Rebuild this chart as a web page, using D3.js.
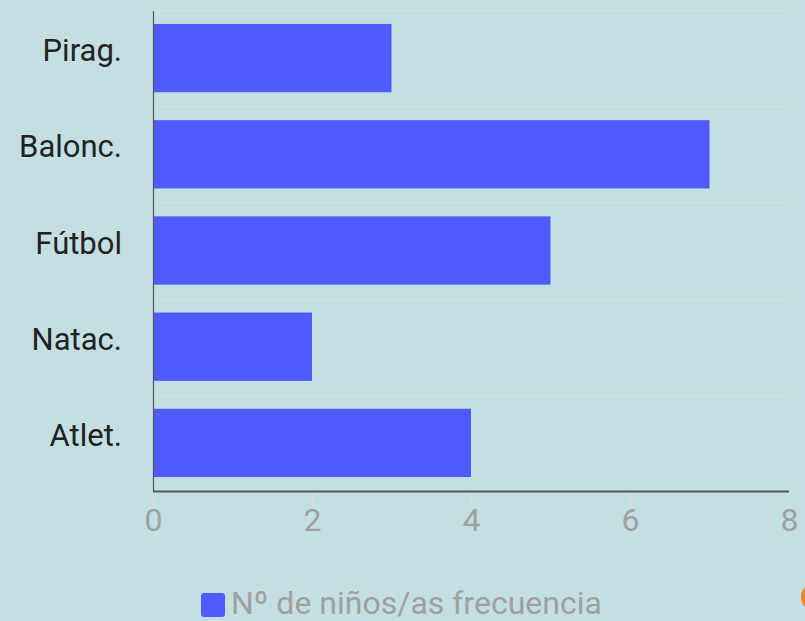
<!DOCTYPE html>
<meta charset="utf-8">
<style>
    body { margin: 0; background: #c4dfe2; }
    svg { display: block; background-color: #c4dfe2; font-family: Roboto, sans-serif; }
</style>
<body>
<script src="https://cdn.jsdelivr.net/npm/d3@7"></script>
<script>

    var categories = ["Pirag.", "Balonc.", "Fútbol", "Natac.", "Atlet."];
    var values = [3, 7, 5, 2, 4];
    var xTicks = [0, 2, 4, 6, 8];
    var seriesName = "Nº de niños/as frecuencia";

    var width = 805,
        height = 621;

    var svg = d3.select("body").append("svg")
        .attr("width", width)
        .attr("height", height);

    var x = d3.scaleLinear().domain([0, 8]).range([153, 789]);
    var y = d3.scaleBand().domain(categories).range([10, 491]).paddingInner(0.29).paddingOuter(0.145);
    var yEdges = d3.scaleBand().domain(categories).range([10, 491]);

    // horizontal grid at band edges
    svg.append("g")
        .selectAll("line")
        .data(categories)
        .enter().append("line")
        .attr("x1", 153).attr("x2", 789)
        .attr("y1", function(d){ return Math.round(yEdges(d)) + 0.5; })
        .attr("y2", function(d){ return Math.round(yEdges(d)) + 0.5; })
        .style("stroke", "#dcdcdc")
        .style("stroke-width", 1.5);

    // bars
    svg.append("g")
        .selectAll("rect")
        .data(values)
        .enter().append("rect")
        .attr("x", x(0))
        .attr("y", function(d, i){ return y(categories[i]); })
        .attr("width", function(d){ return x(d) - x(0); })
        .attr("height", y.bandwidth())
        .style("fill", "#4f5bff");

    // x axis
    var xAxis = svg.append("g")
        .attr("transform", "translate(0,491)")
        .call(d3.axisBottom(x).tickValues(xTicks).tickSize(0).tickPadding(0));
    xAxis.select(".domain").remove();
    xAxis.selectAll(".tick line").remove();
    xAxis.selectAll(".tick").append("line")
        .attr("y1", 3).attr("y2", 15)
        .style("stroke", "#dddddd");
    xAxis.selectAll(".tick text")
        .attr("y", 40)
        .attr("dy", 0)
        .style("font-size", "32px")
        .style("font-family", "Roboto, sans-serif")
        .style("fill", "#a0a0a0");

    svg.append("line")
        .attr("x1", 153).attr("x2", 789)
        .attr("y1", 491.5).attr("y2", 491.5)
        .style("stroke", "#555")
        .style("stroke-width", 2);

    // y axis
    var yAxis = svg.append("g")
        .attr("transform", "translate(153,0)")
        .call(d3.axisLeft(yEdges).tickSize(0).tickPadding(31));
    yAxis.select(".domain").remove();
    yAxis.selectAll(".tick text")
        .attr("dy", "0.1em")
        .style("font-size", "31px")
        .style("font-family", "Roboto, sans-serif")
        .style("fill", "#222");

    svg.append("line")
        .attr("x1", 153.5).attr("x2", 153.5)
        .attr("y1", 11).attr("y2", 492)
        .style("stroke", "#555")
        .style("stroke-width", 1.2);

    // legend
    var legend = svg.append("g").attr("transform", "translate(201,593)");
    legend.append("rect")
        .attr("width", 24).attr("height", 24)
        .attr("rx", 3)
        .style("fill", "#4f5bff");
    legend.append("text")
        .attr("x", 30).attr("y", 21)
        .text(seriesName)
        .style("font-size", "32px")
        .style("fill", "#a0a0a0");

    // orange badge in corner
    svg.append("circle")
        .attr("cx", 816).attr("cy", 597).attr("r", 15)
        .style("fill", "#f7822c");
</script>
